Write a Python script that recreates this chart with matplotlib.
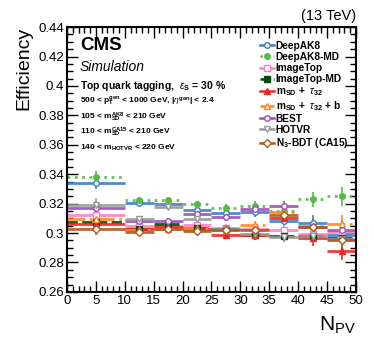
import numpy as np
import matplotlib
matplotlib.use("Agg")
import matplotlib.pyplot as plt
from matplotlib.lines import Line2D
from matplotlib.ticker import MultipleLocator

plt.rcParams["font.family"] = ["Liberation Sans", "DejaVu Sans"]
plt.rcParams["mathtext.fontset"] = "custom"
plt.rcParams["mathtext.rm"] = "Liberation Sans"
plt.rcParams["mathtext.it"] = "Liberation Sans:italic"
plt.rcParams["mathtext.bf"] = "Liberation Sans:bold"

# NPV bins
bin_edges = [0, 10, 15, 20, 25, 30, 35, 40, 45, 50]

# efficiencies per tagger
deepak8 = [0.3343, 0.3202, 0.3200, 0.3160, 0.3134, 0.3140, 0.3082, 0.3070, 0.2986]
deepak8_md = [0.3378, 0.3224, 0.3222, 0.3195, 0.3172, 0.3186, 0.3150, 0.3229, 0.3251]
imagetop = [0.3125, 0.3050, 0.3045, 0.3054, 0.3035, 0.3030, 0.3020, 0.2995, 0.3010]
imagetop_md = [0.3072, 0.3030, 0.3060, 0.3035, 0.3025, 0.2990, 0.2980, 0.2980, 0.2968]
msd_tau32 = [0.3060, 0.3030, 0.3043, 0.3030, 0.2986, 0.2986, 0.3100, 0.2964, 0.2880]
msd_tau32_b = [0.3095, 0.3020, 0.3030, 0.3035, 0.3020, 0.3054, 0.3140, 0.3045, 0.3060]
best = [0.3172, 0.3080, 0.3084, 0.3129, 0.3110, 0.3161, 0.3183, 0.3040, 0.3020]
hotvr = [0.3190, 0.3095, 0.3175, 0.3093, 0.3025, 0.2995, 0.2975, 0.2980, 0.2960]
n3bdt = [0.3030, 0.3010, 0.3030, 0.3013, 0.3020, 0.3020, 0.3122, 0.3043, 0.2952]

# statistical uncertainty per bin
eff_err = [0.0045, 0.002, 0.002, 0.002, 0.0025, 0.003, 0.0035, 0.005, 0.0065]

labels = [
    "DeepAK8",
    "DeepAK8-MD",
    "ImageTop",
    "ImageTop-MD",
    r"m$_{\mathregular{SD}}$ +  $\tau_{\mathregular{32}}$",
    r"m$_{\mathregular{SD}}$ +  $\tau_{\mathregular{32}}$ + b",
    "BEST",
    "HOTVR",
    r"N$_{\mathregular{3}}$-BDT (CA15)",
]
series = [deepak8, deepak8_md, imagetop, imagetop_md, msd_tau32, msd_tau32_b, best, hotvr, n3bdt]
colors = ["#3d7fc6", "#55bb44", "#ff7fc4", "#00480a", "#ee2626",
          "#ff8a1a", "#9c4fb8", "#9a9a9a", "#b0581e"]
markers = ["o", "o", "s", "s", "^", "^", "o", "v", "D"]
filled = [False, True, False, True, True, False, False, False, False]
styles = ["-", ":", "-", "--", "-", "-.", "-", "-", "-"]

edges = np.array(bin_edges, dtype=float)
centers = 0.5 * (edges[:-1] + edges[1:])
half = 0.5 * (edges[1:] - edges[:-1])

fig = plt.figure(figsize=(3.74, 3.43), dpi=100)
ax = fig.add_axes([0.179, 0.149, 0.773, 0.772])

handles = []
for y, c, m, f, ls, lab in zip(series, colors, markers, filled, styles, labels):
    ax.hlines(y, centers - half, centers + half, colors=c, linestyles=ls, lw=2.0, alpha=0.9)
    ax.errorbar(centers, y, yerr=eff_err, fmt=m, ms=4, color=c,
                mfc=c if f else "white", mec=c, mew=1.0, elinewidth=1.2, capsize=0)
    handles.append(Line2D([0], [0], color=c, ls=ls, lw=1.8, marker=m, ms=4,
                          mfc=c if f else "white", mec=c, mew=1.0))

ax.set_xlim(0, 50)
ax.set_ylim(0.26, 0.44)
ax.xaxis.set_major_locator(MultipleLocator(5))
ax.xaxis.set_minor_locator(MultipleLocator(1))
ax.yaxis.set_minor_locator(MultipleLocator(0.005))
ax.set_yticks(np.arange(0.26, 0.4401, 0.02))
ax.set_yticklabels(["0.26", "0.28", "0.3", "0.32", "0.34", "0.36", "0.38", "0.4", "0.42", "0.44"])
ax.tick_params(which="both", direction="in", top=True, right=True, labelsize=9.5, pad=2)
ax.tick_params(which="major", length=8, width=1.0)
ax.tick_params(which="minor", length=4, width=1.0)
for sp in ax.spines.values():
    sp.set_linewidth(1.5)

ax.set_ylabel("Efficiency", fontsize=14, loc="top", labelpad=4)
ax.set_xlabel(r"N$_{\mathregular{PV}}$", fontsize=15, loc="right", labelpad=6)

ax.text(1.0, 1.015, "(13 TeV)", transform=ax.transAxes, ha="right", va="bottom", fontsize=10.5)
ax.text(0.045, 0.932, "CMS", transform=ax.transAxes, fontsize=13.5, fontweight="bold", va="center")
ax.text(0.045, 0.849, "Simulation", transform=ax.transAxes, fontsize=10, style="italic", va="center")
ax.text(0.045, 0.777, r"Top quark tagging,  $\epsilon_{\mathregular{S}}$ = 30 %",
        transform=ax.transAxes, fontsize=7.5, fontweight="bold", va="center")
small = [
    r"500 < p$_{\mathregular{T}}^{\mathregular{gen}}$ < 1000 GeV, |$\eta^{\mathregular{gen}}$| < 2.4",
    r"105 < m$_{\mathregular{SD}}^{\mathregular{AK8}}$ < 210 GeV",
    r"110 < m$_{\mathregular{SD}}^{\mathregular{CA15}}$ < 210 GeV",
    r"140 < m$_{\mathregular{HOTVR}}$ < 220 GeV",
]
for i, s in enumerate(small):
    ax.text(0.045, 0.72 - 0.059 * i, s, transform=ax.transAxes, fontsize=6, fontweight="bold", va="center")

ax.legend(handles=handles, labels=labels, loc="upper left", bbox_to_anchor=(0.655, 0.963),
          frameon=False, handlelength=1.3, handletextpad=0.2,
          labelspacing=0.105, borderaxespad=0, prop={"weight": "bold", "size": 7.3})

fig.savefig("out.png", dpi=100)
